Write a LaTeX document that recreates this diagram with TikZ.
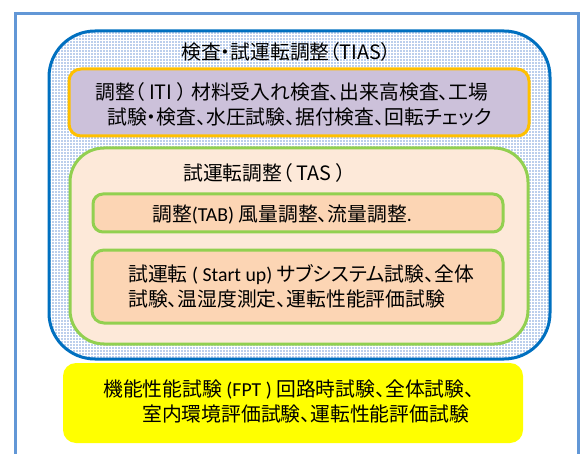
\documentclass[tikz,border=0pt]{standalone}
\usepackage{fontspec}
\setmainfont{Noto Sans CJK JP}[RawFeature=+palt]
\newfontfamily\lat{Carlito}
\usetikzlibrary{patterns}
\definecolor{frameblue}{RGB}{98,151,214}
\definecolor{tiasline}{RGB}{0,112,192}
\definecolor{tiasfill}{RGB}{188,207,236}
\definecolor{itiline}{RGB}{255,192,0}
\definecolor{itifill}{RGB}{204,193,218}
\definecolor{greenline}{RGB}{146,208,80}
\definecolor{tasfill}{RGB}{253,233,217}
\definecolor{peach}{RGB}{252,213,180}
\definecolor{fptfill}{RGB}{255,255,0}
\tikzset{
  box/.style={rectangle, line width=3pt, inner sep=0pt},
  txt/.style={inner sep=0pt, font=\fontsize{19.8}{25}\selectfont, text=black},
}
\begin{document}
\begin{tikzpicture}[x=1pt,y=-1pt]
\useasboundingbox (0,0) rectangle (583,454);
\clip (0,0) rectangle (583,454);
% outer frame
\node[box, draw=frameblue, minimum width=563pt, minimum height=470pt, anchor=north west] (frame) at (14,12) {};
% TIAS
\node[box, draw=tiasline, preaction={fill=tiasfill}, pattern=grid, pattern color=white, rounded corners=46pt, minimum width=501pt, minimum height=328pt] (tias) at (299.5,195) {};
% ITI
\node[box, draw=itiline, fill=itifill, rounded corners=12pt, minimum width=460pt, minimum height=67pt] (iti) at (299,102.5) {};
% TAS
\node[box, draw=greenline, fill=tasfill, rounded corners=34pt, minimum width=458pt, minimum height=196pt] (tas) at (299,246) {};
% TAB
\node[box, draw=greenline, fill=peach, rounded corners=10pt, minimum width=410pt, minimum height=38pt] (tab) at (298,213) {};
% Start up
\node[box, draw=greenline, fill=peach, rounded corners=12pt, minimum width=411pt, minimum height=73pt] (stu) at (297.5,286.5) {};
% FPT
\node[rectangle, fill=fptfill, rounded corners=13pt, minimum width=460pt, minimum height=80pt, inner sep=0pt] (fpt) at (293,403) {};
% texts
\node[txt, anchor=west] (tiast) at (181,52) {検査・試運転調整（TIAS）};
\node[txt, align=left, anchor=west] (itit) at (95,104.5) {調整（ ITI ）\ 材料受入れ検査、出来高検査、工場\\\hspace*{12pt}試験・検査、水圧試験、据付検査、回転チェック};
\node[txt, anchor=west] (tast) at (183,173) {試運転調整（ TAS ）};
\node[txt, anchor=west] (tabt) at (152,215) {調整{\lat(TAB) }風量調整、流量調整{\lat.}};
\node[txt, align=left, anchor=west] (stut) at (128,286.5) {試運転{\lat\ ( Start up)\ }サブシステム試験、全体\\試験、温湿度測定、運転性能評価試験};
\node[txt, align=left, anchor=west] (fptt) at (103,401) {機能性能試験{\lat\ (FPT )\ }回路時試験、全体試験、\\\hspace*{39pt}室内環境評価試験、運転性能評価試験};
\end{tikzpicture}
\end{document}
